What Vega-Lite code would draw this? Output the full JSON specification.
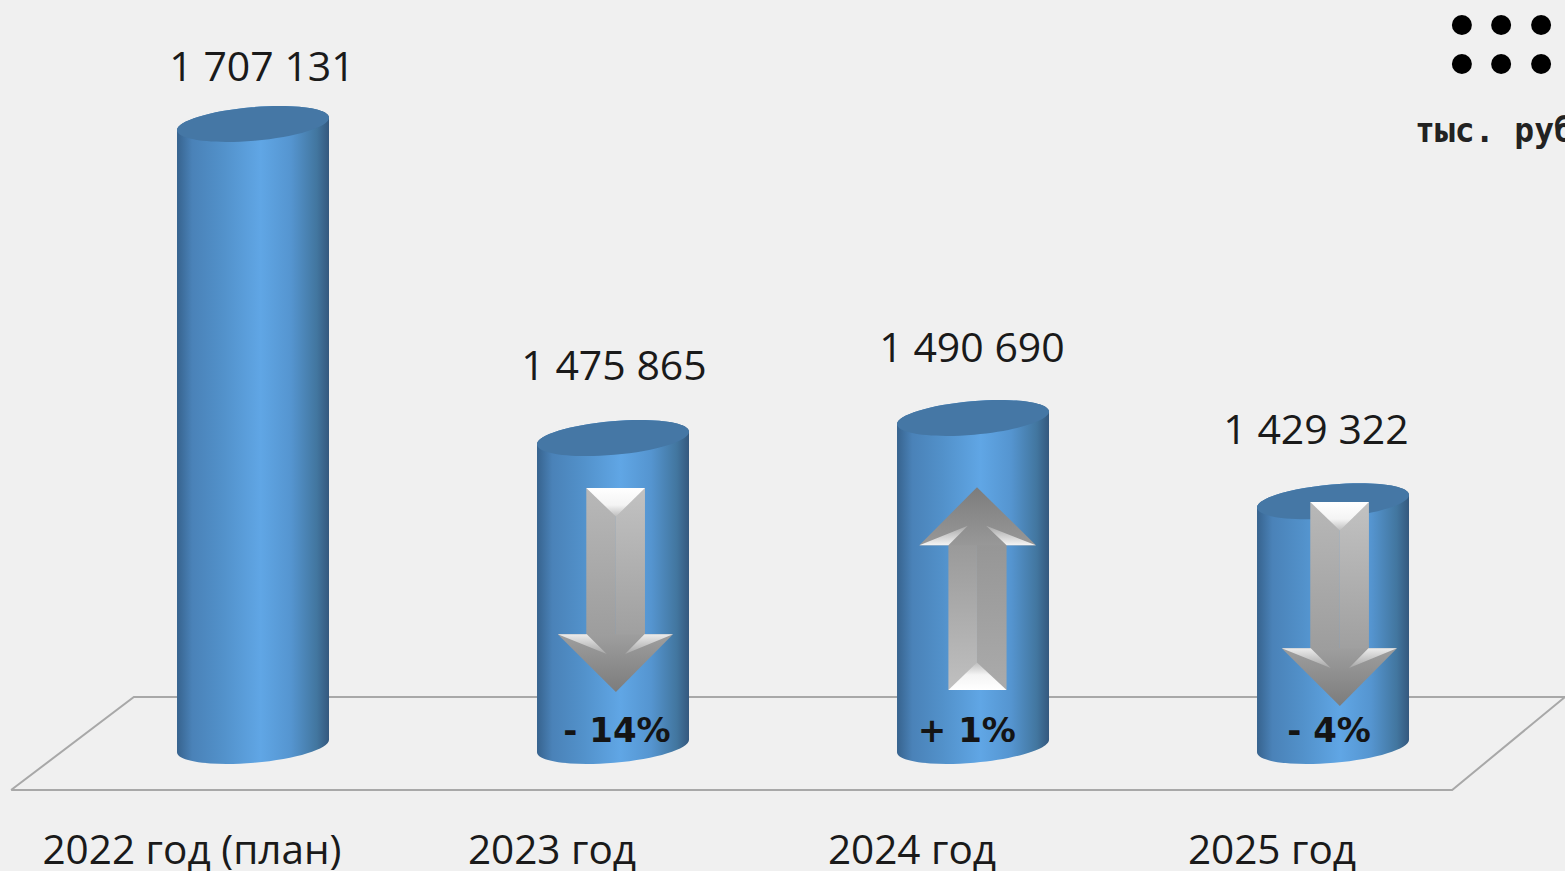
{
"$schema":"https://vega.github.io/schema/vega-lite/v6.json",
"width":1565,"height":871,"padding":0,"autosize":{"type":"none"},
"background":"#f0f0f0",
"config":{"view":{"stroke":null}},
"datasets":{
"bars":[
{"year":2022,"value":1707131,"category":"2022 год (план)","amount":"1 707 131"},
{"year":2023,"value":1475865,"category":"2023 год","amount":"1 475 865"},
{"year":2024,"value":1490690,"category":"2024 год","amount":"1 490 690"},
{"year":2025,"value":1429322,"category":"2025 год","amount":"1 429 322"}],
"floor":[
{"i":0,"year":2021.328,"value":1216704},
{"i":1,"year":2021.669,"value":1285187},
{"i":2,"year":2025.6444,"value":1285187},
{"i":3,"year":2025.331,"value":1216704},
{"i":4,"year":2021.328,"value":1216704}],
"arrowsDown":[
{"year":2023.008,"value":1363979},
{"year":2025.019,"value":1353667}],
"arrowsUp":[
{"year":2024.011,"value":1364715}],
"changes":[
{"year":2023.011,"value":1259414,"change":"- 14%"},
{"year":2023.983,"value":1259414,"change":"+ 1%"},
{"year":2024.989,"value":1259414,"change":"- 4%"}],
"dots":[
{"year":2025.358,"value":1780032},{"year":2025.467,"value":1780032},{"year":2025.578,"value":1780032},
{"year":2025.358,"value":1751314},{"year":2025.467,"value":1751314},{"year":2025.578,"value":1751314}],
"unit":[{"year":2025.2278,"value":1701240,"unit":"тыс. руб."}]
},
"encoding":{
"x":{"field":"year","type":"quantitative","scale":{"domain":[2021.2972,2025.6444],"nice":false,"zero":false,"padding":0},"axis":null},
"y":{"field":"value","type":"quantitative","scale":{"domain":[1157057,1798442],"nice":false,"zero":false},"axis":null}
},
"layer":[
{"data":{"name":"floor"},"mark":{"type":"line","color":"#a8a8a8","strokeWidth":2,"clip":false},"encoding":{"order":{"field":"i","type":"quantitative"}}},
{"data":{"name":"bars"},"mark":{"type":"bar","width":152,"yOffset":7,"fill":{"gradient":"linear","x1":0,"y1":0,"x2":1,"y2":0,"stops":[{"offset":0,"color":"#37638e"},{"offset":0.1,"color":"#4a82b8"},{"offset":0.3,"color":"#5291ca"},{"offset":0.55,"color":"#60a6e5"},{"offset":0.75,"color":"#5595d0"},{"offset":0.92,"color":"#42769f"},{"offset":1,"color":"#34587e"}]}},"encoding":{"y2":{"datum":1254259}}},
{"data":{"name":"bars"},"mark":{"type":"point","filled":true,"opacity":1,"strokeWidth":0,"size":23104,"shape":"M-1,.087 A1,.22 -5 0 1 1,-.087 L1,.12 L-1,.12 Z","fill":{"gradient":"linear","x1":0,"y1":0,"x2":1,"y2":0,"stops":[{"offset":0,"color":"#37638e"},{"offset":0.1,"color":"#4a82b8"},{"offset":0.3,"color":"#5291ca"},{"offset":0.55,"color":"#60a6e5"},{"offset":0.75,"color":"#5595d0"},{"offset":0.92,"color":"#42769f"},{"offset":1,"color":"#34587e"}]}}},
{"data":{"name":"bars"},"mark":{"type":"point","filled":true,"opacity":1,"strokeWidth":0,"size":23104,"shape":"M-1,.087 A1,.22 -5 0 1 1,-.087 A1,.22 -5 0 1 -1,.087 Z","fill":"#4577a5"}},
{"data":{"name":"bars"},"mark":{"type":"point","filled":true,"opacity":1,"strokeWidth":0,"size":23104,"shape":"M-1,-.11 L-1,.087 A1,.22 -5 0 0 1,-.087 L1,-.11 Z","fill":{"gradient":"linear","x1":0,"y1":0,"x2":1,"y2":0,"stops":[{"offset":0,"color":"#37638e"},{"offset":0.1,"color":"#4a82b8"},{"offset":0.3,"color":"#5291ca"},{"offset":0.55,"color":"#60a6e5"},{"offset":0.75,"color":"#5595d0"},{"offset":0.92,"color":"#42769f"},{"offset":1,"color":"#34587e"}]}},"encoding":{"y":{"datum":1249104}}},

{"data":{"name":"arrowsDown"},"mark":{"type":"point","filled":true,"opacity":1,"strokeWidth":0,"size":41616,"shape":"M-.29,-1 L0,-1 L0,.5 L-.29,.5 Z","fill":{"gradient":"linear","x1":0,"y1":0,"x2":0,"y2":1,"stops":[{"offset":0,"color":"#b8b8b8"},{"offset":1,"color":"#9c9c9c"}]}}},
{"data":{"name":"arrowsDown"},"mark":{"type":"point","filled":true,"opacity":1,"strokeWidth":0,"size":41616,"shape":"M0,-1 L.285,-1 L.285,.5 L0,.5 Z","fill":{"gradient":"linear","x1":0,"y1":0,"x2":0,"y2":1,"stops":[{"offset":0,"color":"#c2c2c2"},{"offset":1,"color":"#9e9e9e"}]}}},
{"data":{"name":"arrowsDown"},"mark":{"type":"point","filled":true,"opacity":1,"strokeWidth":0,"size":41616,"shape":"M-.29,-1 L.285,-1 L0,-.72 Z","fill":{"gradient":"linear","x1":0,"y1":0,"x2":0,"y2":1,"stops":[{"offset":0,"color":"#ffffff"},{"offset":0.6,"color":"#f4f4f4"},{"offset":1,"color":"#bdbdbd"}]}}},
{"data":{"name":"arrowsDown"},"mark":{"type":"point","filled":true,"opacity":1,"strokeWidth":0,"size":41616,"shape":"M-.57,.435 L.56,.435 L0,1 Z","fill":{"gradient":"linear","x1":0,"y1":0,"x2":0,"y2":1,"stops":[{"offset":0,"color":"#9e9e9e"},{"offset":1,"color":"#7c7c7c"}]}}},
{"data":{"name":"arrowsDown"},"mark":{"type":"point","filled":true,"opacity":1,"strokeWidth":0,"size":41616,"shape":"M-.57,.435 L-.285,.435 L-.09,.627 Z M.56,.435 L.28,.435 L.09,.627 Z","fill":{"gradient":"linear","x1":0,"y1":0,"x2":0,"y2":1,"stops":[{"offset":0,"color":"#ececec"},{"offset":1,"color":"#a6a6a6"}]}}},

{"data":{"name":"arrowsUp"},"mark":{"type":"point","filled":true,"opacity":1,"strokeWidth":0,"size":41616,"shape":"M-.28,-.5 L0,-.5 L0,.99 L-.28,.99 Z","fill":{"gradient":"linear","x1":0,"y1":0,"x2":0,"y2":1,"stops":[{"offset":0,"color":"#989898"},{"offset":1,"color":"#c0c0c0"}]}}},
{"data":{"name":"arrowsUp"},"mark":{"type":"point","filled":true,"opacity":1,"strokeWidth":0,"size":41616,"shape":"M0,-.5 L.29,-.5 L.29,.99 L0,.99 Z","fill":{"gradient":"linear","x1":0,"y1":0,"x2":0,"y2":1,"stops":[{"offset":0,"color":"#959595"},{"offset":1,"color":"#ababab"}]}}},
{"data":{"name":"arrowsUp"},"mark":{"type":"point","filled":true,"opacity":1,"strokeWidth":0,"size":41616,"shape":"M-.28,.99 L.29,.99 L0,.72 Z","fill":{"gradient":"linear","x1":0,"y1":0,"x2":0,"y2":1,"stops":[{"offset":0,"color":"#bdbdbd"},{"offset":0.45,"color":"#f4f4f4"},{"offset":1,"color":"#ffffff"}]}}},
{"data":{"name":"arrowsUp"},"mark":{"type":"point","filled":true,"opacity":1,"strokeWidth":0,"size":41616,"shape":"M-.565,-.43 L.578,-.43 L0,-.997 Z","fill":{"gradient":"linear","x1":0,"y1":0,"x2":0,"y2":1,"stops":[{"offset":0,"color":"#7c7c7c"},{"offset":1,"color":"#989898"}]}}},
{"data":{"name":"arrowsUp"},"mark":{"type":"point","filled":true,"opacity":1,"strokeWidth":0,"size":41616,"shape":"M-.565,-.43 L-.28,-.43 L-.09,-.62 Z M.578,-.43 L.29,-.43 L.09,-.62 Z","fill":{"gradient":"linear","x1":0,"y1":0,"x2":0,"y2":1,"stops":[{"offset":0,"color":"#a6a6a6"},{"offset":1,"color":"#f4f4f4"}]}}},

{"data":{"name":"changes"},"mark":{"type":"text","font":"DejaVu Sans","fontWeight":"bold","fontSize":34,"color":"#141414","baseline":"middle"},"encoding":{"text":{"field":"change"}}},
{"data":{"name":"bars"},"transform":[{"filter":"datum.year==2022"}],"mark":{"type":"text","font":"Open Sans","fontSize":41,"color":"#1a1a1a","baseline":"middle","dx":9,"dy":-55},"encoding":{"text":{"field":"amount"}}},
{"data":{"name":"bars"},"transform":[{"filter":"datum.year==2023"}],"mark":{"type":"text","font":"Open Sans","fontSize":41,"color":"#1a1a1a","baseline":"middle","dx":1,"dy":-70},"encoding":{"text":{"field":"amount"}}},
{"data":{"name":"bars"},"transform":[{"filter":"datum.year==2024"}],"mark":{"type":"text","font":"Open Sans","fontSize":41,"color":"#1a1a1a","baseline":"middle","dx":-1,"dy":-68},"encoding":{"text":{"field":"amount"}}},
{"data":{"name":"bars"},"transform":[{"filter":"datum.year==2025"}],"mark":{"type":"text","font":"Open Sans","fontSize":41,"color":"#1a1a1a","baseline":"middle","dx":-17,"dy":-69},"encoding":{"text":{"field":"amount"}}},
{"data":{"name":"bars"},"mark":{"type":"text","font":"Open Sans","fontSize":40.5,"color":"#1a1a1a","baseline":"middle","dx":-61,"dy":2},"encoding":{"y":{"datum":1172522},"text":{"field":"category"}}},
{"data":{"name":"dots"},"mark":{"type":"circle","opacity":1,"color":"#000000","size":400}},
{"data":{"name":"unit"},"mark":{"type":"text","font":"DejaVu Sans Mono","fontWeight":"bold","fontSize":33,"color":"#222222","align":"left","baseline":"middle"},"encoding":{"text":{"field":"unit"}}}
]
}
